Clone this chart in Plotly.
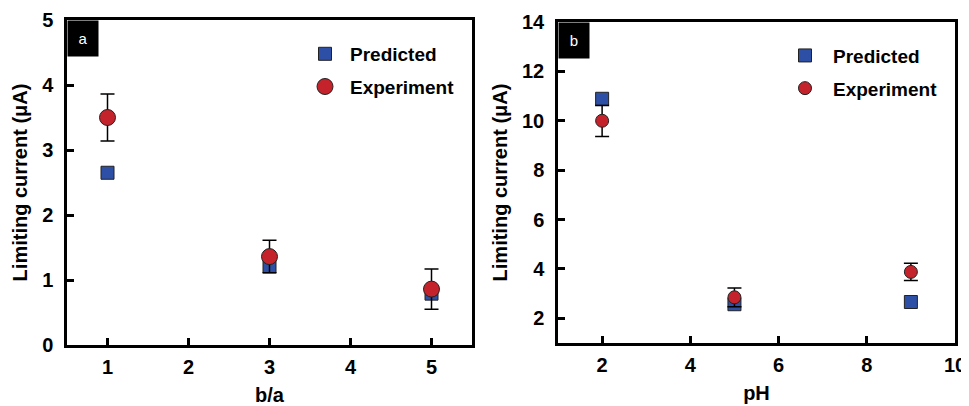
import plotly.graph_objects as go

# Panel a data
ba = [1, 3, 5]
pred_a = [2.65, 1.21, 0.79]
exp_a = [3.5, 1.36, 0.86]
exp_a_err = [0.36, 0.25, 0.31]

# Panel b data
ph = [2, 5, 9]
pred_b = [10.89, 2.57, 2.66]
exp_b = [10.0, 2.85, 3.88]
exp_b_err_plus = [0.62, 0.38, 0.35]
exp_b_err_minus = [0.64, 0.38, 0.35]

BLUE = "#2D4FA5"
RED = "#C4232B"
FONT = "Liberation Sans"

W, H = 961, 398

fig = go.Figure()

fig.add_trace(go.Scatter(x=ba, y=pred_a, mode="markers", name="Predicted",
                         marker=dict(symbol="square", size=13, color=BLUE, line=dict(color="#222", width=1)),
                         xaxis="x", yaxis="y", legend="legend", legendgroup="p"))
fig.add_trace(go.Scatter(x=ba, y=exp_a, mode="markers", name="Experiment",
                         marker=dict(symbol="circle", size=16, color=RED, line=dict(color="#222", width=1)),
                         error_y=dict(type="data", array=exp_a_err, color="black", thickness=1.5, width=7),
                         xaxis="x", yaxis="y", legend="legend", legendgroup="e"))

fig.add_trace(go.Scatter(x=ph, y=pred_b, mode="markers", name="Predicted",
                         marker=dict(symbol="square", size=13, color=BLUE, line=dict(color="#222", width=1)),
                         xaxis="x2", yaxis="y2", legend="legend2", legendgroup="p2"))
fig.add_trace(go.Scatter(x=ph, y=exp_b, mode="markers", name="Experiment",
                         marker=dict(symbol="circle", size=13, color=RED, line=dict(color="#222", width=1)),
                         error_y=dict(type="data", array=exp_b_err_plus, arrayminus=exp_b_err_minus,
                                      color="black", thickness=1.5, width=7),
                         xaxis="x2", yaxis="y2", legend="legend2", legendgroup="e2"))

tickfont = dict(family=FONT, size=20, color="black", weight="bold")
titlefont = dict(family=FONT, size=20, color="black", weight="bold")

axis_common = dict(showline=True, linecolor="black", linewidth=2.5, mirror=True,
                   ticks="inside", ticklen=7, tickwidth=2.5, tickcolor="black",
                   showgrid=False, zeroline=False, tickfont=tickfont, automargin=False)

fig.update_layout(
    width=W, height=H,
    margin=dict(l=0, r=0, t=12, b=61),
    plot_bgcolor="white", paper_bgcolor="white",
    xaxis=dict(domain=[59/W, 464/W], range=[0.5, 5.5], tickvals=[1, 2, 3, 4, 5], ticklabelstandoff=2,
               title=dict(text="b/a", font=titlefont, standoff=12), **axis_common),
    yaxis=dict(range=[0, 5], tickvals=[0, 1, 2, 3, 4, 5], ticklabelstandoff=7,
               title=dict(text="Limiting current (μA)", font=titlefont, standoff=10), **axis_common),
    xaxis2=dict(domain=[550/W, 947/W], range=[1, 10], tickvals=[2, 4, 6, 8, 10], anchor="y2", ticklabelstandoff=2,
                title=dict(text="pH", font=titlefont, standoff=12), **axis_common),
    yaxis2=dict(domain=[2/325, 323/325], range=[1, 14], tickvals=[2, 4, 6, 8, 10, 12, 14], anchor="x2",
                ticklabelstandoff=7,
                title=dict(text="Limiting current (μA)", font=titlefont, standoff=10), **axis_common),
    legend=dict(x=292/W, y=0.954, xanchor="left", yanchor="top", bgcolor="rgba(0,0,0,0)",
                font=dict(family=FONT, size=19, color="black", weight="bold"),
                traceorder="grouped", tracegroupgap=5, itemwidth=40),
    legend2=dict(x=769/W, y=0.949, xanchor="left", yanchor="top", bgcolor="rgba(0,0,0,0)",
                 font=dict(family=FONT, size=19, color="black", weight="bold"),
                 traceorder="grouped", tracegroupgap=5, itemwidth=46),
    showlegend=True,
)

fig.add_annotation(text="a", xref="x domain", yref="y domain", x=0, y=1, xanchor="left", yanchor="top",
                   showarrow=False, bgcolor="black", width=28, height=33,
                   font=dict(family=FONT, size=15, color="white"))
fig.add_annotation(text="b", xref="x2 domain", yref="y2 domain", x=0, y=1, xanchor="left", yanchor="top",
                   showarrow=False, bgcolor="black", width=28, height=33,
                   font=dict(family=FONT, size=15, color="white"))

fig.write_html("out.html")
